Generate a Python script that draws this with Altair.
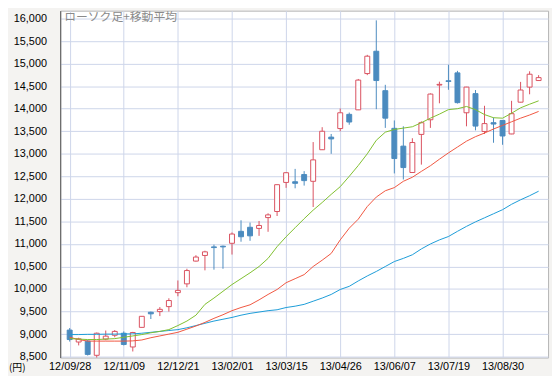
import json
import altair as alt
import pandas as pd

title_text = "ローソク足+移動平均"
unit_text = "(円)"
tick_labels = ["12/09/28", "12/11/09", "12/12/21", "13/02/01", "13/03/15",
               "13/04/26", "13/06/07", "13/07/19", "13/08/30"]
y_ticks = list(range(8500, 16001, 500))

opens = [9090, 8825, 8845, 8530, 8890, 8975, 9020, 8715, 9150, 9485,
         9500, 9610, 9920, 10115, 10620, 10745, 10935, 10950, 11015, 11280,
         11370, 11345, 11585, 11720, 12365, 12380, 12540, 12390, 13090, 13370,
         13560, 13875, 13975, 14780, 15275, 14400, 13565, 13170, 12585, 13430,
         13755, 14525, 14620, 14795, 13910, 14335, 13495, 13690, 13740, 13440,
         14145, 14480, 14625]
closes = [8880, 8895, 8550, 9020, 8955, 9060, 8770, 9035, 9395, 9450,
          9550, 9745, 9970, 10410, 10710, 10825, 10920, 10935, 11220, 11160,
          11180, 11410, 11645, 12315, 12580, 12345, 12405, 12865, 13500, 13330,
          13910, 13705, 14635, 15165, 14625, 13790, 12895, 12695, 13250, 13690,
          14325, 14540, 14605, 14135, 14480, 13615, 13670, 13660, 13395, 13890,
          14415, 14765, 14690]
highs = [9135, 8920, 8870, 9035, 9080, 9090, 9060, 9050, 9400, 9500,
         9600, 9795, 10190, 10450, 10750, 10850, 10985, 10965, 11255, 11525,
         11475, 11510, 11680, 12320, 12595, 12665, 12615, 13260, 13590, 13440,
         14005, 13915, 14660, 15195, 15960, 14530, 13740, 13610, 13345, 13720,
         14340, 14600, 14975, 14840, 14485, 14415, 14065, 13805, 13745, 14175,
         14595, 14830, 14745]
lows = [8835, 8750, 8525, 8480, 8865, 8930, 8750, 8615, 9145, 9335,
        9400, 9500, 9840, 10040, 10610, 10415, 10430, 10450, 10765, 11050,
        11070, 11180, 11270, 11620, 12245, 12235, 12295, 11820, 13085, 13000,
        13500, 13645, 13970, 14745, 13990, 13575, 12565, 12430, 12580, 12760,
        13575, 14120, 14420, 14115, 13610, 13520, 13440, 13245, 13200, 13435,
        14140, 14320, 14620]
ma13 = [8900, 8890, 8880, 8880, 8890, 8900, 8930, 8960, 8990, 9030,
        9060, 9100, 9190, 9290, 9420, 9660, 9800, 9950, 10100, 10230,
        10360, 10500, 10680, 10940, 11160, 11360, 11560, 11750, 11920, 12100,
        12270, 12500, 12740, 13000, 13300, 13480, 13540, 13570, 13600, 13690,
        13790, 13880, 13980, 14000, 14050, 13980, 13870, 13800, 13790, 13900,
        14020, 14100, 14175]
ma26 = [8930, 8880, 8845, 8845, 8845, 8845, 8845, 8850, 8870, 8920,
        8960, 9000, 9040, 9110, 9180, 9260, 9350, 9430, 9520, 9590,
        9650, 9760, 9880, 9990, 10140, 10230, 10320, 10500, 10640, 10790,
        11090, 11350, 11550, 11830, 12040, 12180, 12250, 12390, 12480, 12610,
        12735, 12880, 13020, 13150, 13280, 13380, 13460, 13550, 13630, 13710,
        13790, 13860, 13940]
ma52 = [8990, 8990, 8995, 8995, 9000, 9000, 9005, 9005, 9020, 9040,
        9060, 9080, 9100, 9140, 9190, 9240, 9290, 9330, 9370, 9420,
        9460, 9490, 9520, 9540, 9590, 9620, 9660, 9730, 9800, 9880,
        9990, 10060, 10180, 10290, 10390, 10500, 10610, 10680, 10760, 10890,
        11000, 11090, 11165, 11280, 11390, 11490, 11580, 11670, 11760, 11880,
        11980, 12070, 12170]

n = len(opens)
df = pd.DataFrame({
    "week": list(range(n)),
    "open": opens, "close": closes, "high": highs, "low": lows,
    "ma13": ma13, "ma26": ma26, "ma52": ma52,
})
df["dir"] = ["up" if c >= o else "down" for o, c in zip(opens, closes)]

RED = "#d9515f"
BLUE = "#4b8bbf"
GRID = "#cdd5ea"
FONT = "Liberation Sans"

label_expr = json.dumps(tick_labels) + "[round(datum.value / 6)]"

xscale = alt.Scale(domain=[-0.5, n - 0.5], nice=False, zero=False)
yscale = alt.Scale(domain=[8480, 16175], nice=False, zero=False)

x_axis = alt.Axis(values=list(range(0, 49, 6)), labelExpr=label_expr,
                  grid=True, gridColor=GRID, ticks=False, domain=False,
                  labelPadding=3, labelFontSize=11, labelFont=FONT,
                  labelColor="#000", title=None, labelOverlap=False)
y_axis = alt.Axis(values=y_ticks, format=",.0f", grid=True, gridColor=GRID,
                  ticks=False, domain=True, domainColor="#555",
                  labelPadding=14, labelFontSize=11, labelFont=FONT,
                  labelColor="#000", title=None, labelOverlap=False)


def X():
    return alt.X("week:Q", scale=xscale, axis=x_axis)


def Y(field):
    return alt.Y(field, scale=yscale, axis=y_axis)


base = alt.Chart(df)
color_scale = alt.Scale(domain=["up", "down"], range=[RED, BLUE])

wicks = base.mark_rule(strokeWidth=1).encode(
    x=X(), y=Y("low:Q"), y2="high:Q",
    color=alt.Color("dir:N", scale=color_scale, legend=None),
)

bodies_up = base.transform_filter("datum.dir == 'up'").mark_bar(
    width=5, fill="white", stroke=RED, strokeWidth=1
).encode(x=X(), y=Y("open:Q"), y2="close:Q")

bodies_down = base.transform_filter("datum.dir == 'down'").mark_bar(
    width=5, fill=BLUE, stroke=BLUE, strokeWidth=1
).encode(x=X(), y=Y("open:Q"), y2="close:Q")

line52 = base.mark_line(color="#1a9bd7", strokeWidth=1).encode(x=X(), y=Y("ma52:Q"))
line26 = base.mark_line(color="#f0553f", strokeWidth=1).encode(x=X(), y=Y("ma26:Q"))
line13 = base.mark_line(color="#7fbf2e", strokeWidth=1).encode(x=X(), y=Y("ma13:Q"))

title_mark = alt.Chart(pd.DataFrame({"t": [title_text]})).mark_text(
    align="left", baseline="top", fontSize=12, font="Noto Sans CJK JP", color="#8a8a8a"
).encode(x=alt.value(4), y=alt.value(1), text="t:N")

unit_mark = alt.Chart(pd.DataFrame({"t": [unit_text]})).mark_text(
    align="left", baseline="middle", fontSize=10, font="Noto Sans CJK JP", color="#000"
).encode(x=alt.value(-52), y=alt.value(363), text="t:N")

chart = alt.layer(
    wicks, bodies_up, bodies_down, line52, line26, line13, title_mark, unit_mark
).properties(
    width=495, height=352,
    autosize=alt.AutoSizeParams(type="none"),
    padding={"left": 53, "top": 0, "right": 4, "bottom": 16},
    background="#f4f3f1",
).configure_view(fill="white", stroke="#b5b5b5", strokeWidth=1)

chart.save("out.html", embed_options={"renderer": "svg", "actions": False})
